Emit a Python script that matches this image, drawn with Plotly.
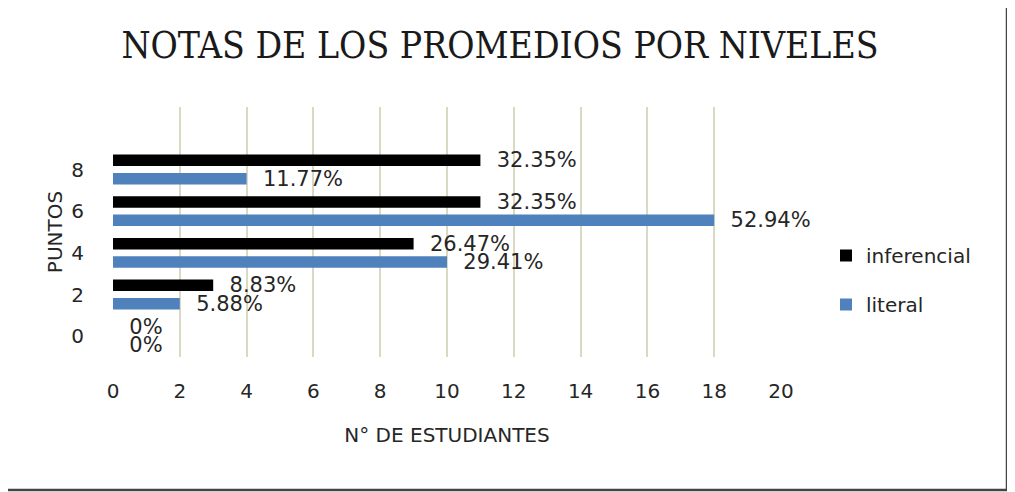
import plotly.graph_objects as go

puntos = [0, 2, 4, 6, 8]
inferencial = [0, 3, 9, 11, 11]
inferencial_pct = ["0%", "8.83%", "26.47%", "32.35%", "32.35%"]
literal = [0, 2, 10, 18, 4]
literal_pct = ["0%", "5.88%", "29.41%", "52.94%", "11.77%"]
x_ticks = list(range(0, 21, 2))

# page body has an 8px margin, so the figure is drawn 8px in from the window edge
OFF = 8
W, H = 1015 - OFF, 492 - OFF
L = 113 - OFF
T = 107 - OFF
R = W - (781 - OFF)
B = H - (357 - OFF)

SANS = "DejaVu Sans, sans-serif"
TXT = "#262626"
lab_font = dict(family=SANS, size=21, color=TXT)
pad = "\u00a0\u00a0"

fig = go.Figure()
fig.add_trace(go.Bar(
    y=puntos, x=inferencial, orientation="h", name="inferencial",
    marker=dict(color="#000000", line=dict(width=0)),
    width=0.55, offset=0.165,
    text=inferencial_pct, texttemplate=pad + "%{text}", textposition="outside",
    constraintext="none", cliponaxis=False, textfont=lab_font,
    legendgroup="a", legendrank=1, hoverinfo="skip",
))
fig.add_trace(go.Bar(
    y=puntos, x=literal, orientation="h", name="literal",
    marker=dict(color="#4F81BD", line=dict(width=0)),
    width=0.55, offset=-0.715,
    text=literal_pct, texttemplate=pad + "%{text}", textposition="outside",
    constraintext="none", cliponaxis=False, textfont=lab_font,
    legendgroup="b", legendrank=2, hoverinfo="skip",
))

pw = W - L - R
ph = H - T - B
fig.update_layout(
    width=W, height=H,
    margin=dict(l=L, r=R, t=T, b=B, autoexpand=False),
    paper_bgcolor="white", plot_bgcolor="white",
    barmode="overlay",
    showlegend=True,
    title=dict(text="NOTAS DE LOS PROMEDIOS POR NIVELES",
               font=dict(family="DejaVu Serif Condensed, Liberation Serif, serif", size=37, color="#1a1a1a"),
               x=(500 - OFF) / W, xref="container", xanchor="center",
               y=1 - (45 - OFF) / H, yref="container", yanchor="middle"),
    legend=dict(x=(826 - 113) / pw, y=1 - (236 - 107) / ph, xanchor="left", yanchor="top",
                traceorder="grouped", tracegroupgap=20,
                font=dict(family=SANS, size=20, color=TXT),
                bgcolor="rgba(0,0,0,0)"),
    xaxis=dict(range=[0, 20], tickvals=x_ticks, showgrid=True, gridcolor="#d9d9c4", gridwidth=1.5,
               zeroline=False, showline=False, ticks="outside", ticklen=0,
               ticklabelstandoff=16,
               tickfont=dict(family=SANS, size=20, color=TXT),
               title=dict(text="N° DE ESTUDIANTES", standoff=25,
                          font=dict(family=SANS, size=20, color=TXT))),
    yaxis=dict(range=[-1, 11], tickvals=puntos, showgrid=False, zeroline=False, showline=False,
               ticklabelstandoff=28,
               tickfont=dict(family=SANS, size=20, color=TXT),
               title=dict(text="PUNTOS", standoff=3,
                          font=dict(family=SANS, size=20, color=TXT))),
)

# outer frame (right and bottom edges visible in reference)
xr = (1007 - 113) / pw
yb = (357 - 490) / ph
fig.add_shape(type="line", xref="paper", yref="paper",
              x0=xr, x1=xr, y0=yb, y1=1 + T / ph,
              line=dict(color="#444444", width=2.5))
fig.add_shape(type="line", xref="paper", yref="paper",
              x0=-L / pw, x1=xr, y0=yb, y1=yb,
              line=dict(color="#444444", width=2.5))

fig.write_html("out.html")
